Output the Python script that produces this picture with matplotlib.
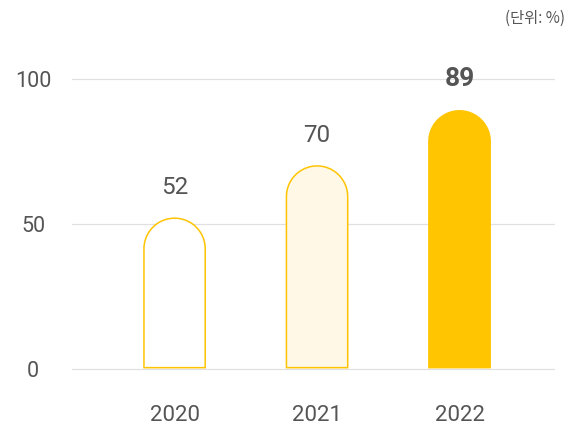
import numpy as np
import matplotlib
matplotlib.use("Agg")
import matplotlib.pyplot as plt
from matplotlib.path import Path
from matplotlib.patches import PathPatch

plt.rcParams['font.family'] = ['Roboto', 'Noto Sans CJK KR', 'DejaVu Sans']

years = ['2020', '2021', '2022']
values = [52, 70, 89]
fills = ['#FFFFFF', '#FFF8E6', '#FFC500']
edges = ['#FFC400', '#FFC400', '#FFC500']
bold_last = [False, False, True]
yticks = [0, 50, 100]
unit_label = '(단위: %)'

TEXT = '#555555'
GRID = '#E0E0E0'
BAR_W = 0.43

fig = plt.figure(figsize=(5.71, 4.25), dpi=100)
# y=0 sits at pixel row 369, 2.9 px per unit
ax = fig.add_axes([72 / 571, 1 - 372 / 425, 483 / 571, 332 / 425])
ax.set_xlim(-0.72, 2.67)
ax.set_ylim(-1, 113.4)

for s in ax.spines.values():
    s.set_visible(False)
ax.set_yticks(yticks)
ax.set_yticklabels([str(t) for t in yticks])
ax.grid(axis='y', color=GRID, linewidth=0.9)
ax.set_axisbelow(True)
ax.tick_params(axis='y', length=0, pad=28, labelsize=15.5, labelcolor=TEXT)
for lbl in ax.get_yticklabels():
    lbl.set_horizontalalignment('center')
ax.set_xticks(range(len(years)))
ax.set_xticklabels(years)
ax.tick_params(axis='x', length=0, pad=23.5, labelsize=16, labelcolor=TEXT)

# semicircle cap height in data units (account for axes aspect)
fig.canvas.draw()
p0 = ax.transData.transform((0, 0))
p1 = ax.transData.transform((1, 1))
px_x = p1[0] - p0[0]
px_y = p1[1] - p0[1]
rx = BAR_W / 2
ry = rx * px_x / px_y

theta = np.linspace(np.pi, 0, 60)
for i, (v, fc, ec) in enumerate(zip(values, fills, edges)):
    xl, xr = i - rx, i + rx
    arc = np.column_stack([i + rx * np.cos(theta), v - ry + ry * np.sin(theta)])
    verts = np.vstack([[xl, 0.5], [xl, v - ry], arc, [xr, 0.5], [xl, 0.5]])
    codes = [Path.MOVETO] + [Path.LINETO] * (len(verts) - 2) + [Path.CLOSEPOLY]
    ax.add_patch(PathPatch(Path(verts, codes), facecolor=fc, edgecolor=ec,
                           linewidth=1.1, zorder=3))
    ax.annotate(str(v), (i, v), xytext=(0, 14), textcoords='offset points',
                ha='center', va='bottom', color=TEXT,
                fontsize=19 if bold_last[i] else 17.5,
                fontweight='bold' if bold_last[i] else 'normal')

fig.text(565 / 571, 1 - 18 / 425, unit_label, ha='right', va='center',
         fontsize=11, color=TEXT, family=['Noto Sans CJK KR', 'DejaVu Sans'])

fig.savefig('out.png', dpi=100)
